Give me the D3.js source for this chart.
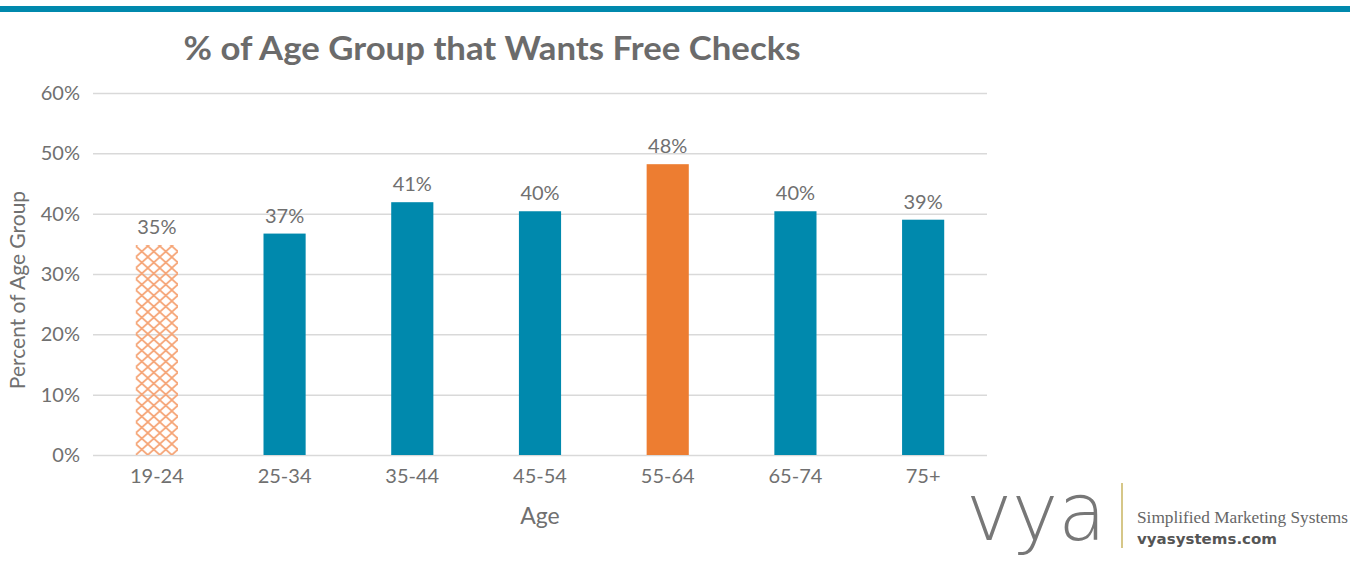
<!DOCTYPE html>
<html><head><meta charset="utf-8">
<script src="https://cdn.jsdelivr.net/npm/d3@7"></script>
<style>body{margin:0;background:#fff}svg{display:block}</style>
</head><body>
<svg id="c" width="1355" height="582"></svg>
<script>
const categories = ["19-24","25-34","35-44","45-54","55-64","65-74","75+"];
const values = [34.8, 36.7, 41.9, 40.4, 48.2, 40.4, 39.0];
const labels = ["35%","37%","41%","40%","48%","40%","39%"];
const yTicks = [0,10,20,30,40,50,60];
const styles = ["hatch","solid","solid","solid","accent","solid","solid"];

const svg = d3.select("#c");
const font = "Lato, 'Open Sans', sans-serif";
const gray = "#707070";

// top stripe
svg.append("rect").attr("x",0).attr("y",6).attr("width",1350).attr("height",6).attr("fill","#0089ad");

const x = d3.scaleBand().domain(categories).range([93,987]).paddingInner(0.67).paddingOuter(0.335);
const y = d3.scaleLinear().domain([0,60]).range([455,93]);

const defs = svg.append("defs");
const pw = 12, ph = 11;
const pat = defs.append("pattern").attr("id","hatch").attr("patternUnits","userSpaceOnUse")
  .attr("x",x(categories[0])).attr("y",455).attr("width",pw).attr("height",ph);
pat.append("path").attr("d",`M0,0 L${pw},${ph} M${pw},0 L0,${ph}`)
  .attr("stroke","#f5a374").attr("stroke-width",1.7).attr("fill","none");

// gridlines
const ya = svg.append("g").attr("transform","translate(93,0)")
  .call(d3.axisLeft(y).tickValues(yTicks).tickSize(-894).tickFormat(d=>d+"%").tickPadding(13));
ya.select(".domain").remove();
ya.selectAll(".tick line").attr("stroke","#d9d9d9").attr("stroke-width",1.5);
ya.selectAll(".tick text").attr("fill",gray).style("font-family",font).style("font-size","20px");

const xa = svg.append("g").attr("transform","translate(0,455)")
  .call(d3.axisBottom(x).tickSize(0).tickPadding(14));
xa.select(".domain").remove();
xa.selectAll(".tick text").attr("fill",gray).style("font-family",font).style("font-size","20px");

const colorFor = s => s==="hatch" ? "url(#hatch)" : s==="accent" ? "#ed7d31" : "#0089ad";
svg.append("g").selectAll("rect").data(categories).join("rect")
  .attr("x",d=>x(d)).attr("width",x.bandwidth())
  .attr("y",(d,i)=>y(values[i])).attr("height",(d,i)=>y(0)-y(values[i]))
  .attr("fill",(d,i)=>colorFor(styles[i]));

svg.append("g").selectAll("text").data(categories).join("text")
  .attr("x",d=>x(d)+x.bandwidth()/2).attr("y",(d,i)=>y(values[i])-11)
  .attr("text-anchor","middle").attr("fill",gray)
  .style("font-family",font).style("font-size","20px")
  .text((d,i)=>labels[i]);

// titles
svg.append("text").attr("x",492).attr("y",60).attr("text-anchor","middle")
  .attr("fill","#6b6b6b").style("font-family",font).style("font-weight","bold").style("font-size","33px")
  .attr("textLength",617).attr("lengthAdjust","spacingAndGlyphs")
  .text("% of Age Group that Wants Free Checks");
svg.append("text").attr("transform","translate(25,290) rotate(-90)").attr("text-anchor","middle")
  .attr("fill",gray).style("font-family",font).style("font-size","21px").text("Percent of Age Group");
svg.append("text").attr("x",540).attr("y",524).attr("text-anchor","middle")
  .attr("fill",gray).style("font-family",font).style("font-size","23px").text("Age");

// logo
svg.append("text").attr("x",966).attr("y",540).attr("fill","#777")
  .style("font-family","'DejaVu Sans', sans-serif").style("font-weight","200").style("font-size","80px")
  .attr("textLength",140).attr("lengthAdjust","spacingAndGlyphs").text("vya");
svg.append("line").attr("x1",1122).attr("x2",1122).attr("y1",483).attr("y2",548)
  .attr("stroke","#c9b560").attr("stroke-width",1.5);
svg.append("text").attr("x",1137).attr("y",523).attr("fill","#666")
  .style("font-family","'Liberation Serif', serif").style("font-size","17px")
  .attr("textLength",211).attr("lengthAdjust","spacingAndGlyphs").text("Simplified Marketing Systems");
svg.append("text").attr("x",1137).attr("y",544).attr("fill","#555")
  .style("font-family","'DejaVu Sans', sans-serif").style("font-weight","bold").style("font-size","14.5px")
  .attr("textLength",140).attr("lengthAdjust","spacingAndGlyphs").text("vyasystems.com");
</script>
</body></html>
